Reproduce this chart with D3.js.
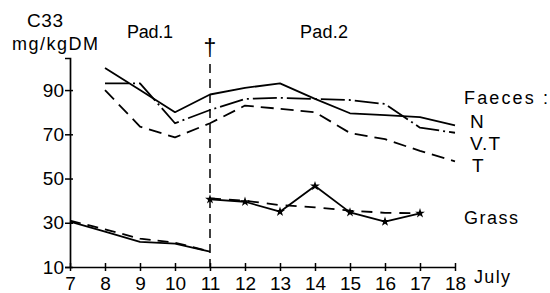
<!DOCTYPE html>
<meta charset="utf-8"/>
<style>
  body { margin: 0; background: #fff; }
  text { font-family: "Liberation Sans", Arial, sans-serif; fill: #000; }
</style>
<svg width="550" height="293"></svg>
<script src="https://d3js.org/d3.v7.min.js"></script>
<script>

// data (C33 alkane, mg/kg DM)
var days = [7, 8, 9, 10, 11, 12, 13, 14, 15, 16, 17, 18];
var yTicks = [10, 30, 50, 70, 90];

var faecesDays = [8, 9, 10, 11, 12, 13, 14, 15, 16, 17, 18];
var faecesN  = [100, 90, 80, 88, 91, 93, 86, 79.5, 78.7, 77.8, 74];
var faecesVT = [93, 93, 75, 81, 86, 86.5, 86, 85.5, 83.7, 73, 70.7];
var faecesT  = [90, 73.5, 68.6, 75, 83, 81.5, 80, 70.6, 67.8, 62.5, 57.8];

var grassDays1 = [7, 8, 9, 10, 11];
var grassSolid1 = [30.5, 26, 21.4, 20.6, 17];
var grassDash1  = [31, 27, 22.8, 21, 17];
var grassDays2 = [11, 12, 13, 14, 15, 16, 17];
var grassSolid2 = [40.6, 39.5, 35, 46.6, 34.7, 30.5, 34.3];
var grassDash2  = [41, 40, 38, 37, 35.5, 34.5, 34.3];

var svg = d3.select("svg");

var x = d3.scaleLinear().domain([7, 18]).range([70, 455]);
var y = d3.scaleLinear().domain([10, 104.5]).range([267, 58]);

// axes
var yAxis = svg.append("g")
    .attr("transform", "translate(" + x(7) + ",0)")
    .call(d3.axisLeft(y).tickValues(yTicks).tickSizeOuter(0).tickSize(5));
yAxis.select(".domain").attr("stroke", "#000").attr("stroke-width", 1.7);
yAxis.selectAll(".tick line").attr("x1", 3).attr("x2", -5).attr("stroke-width", 1.5);
yAxis.selectAll(".tick text")
    .attr("x", -6)
    .style("font-size", "19px")
    .style("font-family", "Liberation Sans, Arial, sans-serif");

var xAxis = svg.append("g")
    .attr("transform", "translate(0," + y(10) + ")")
    .call(d3.axisBottom(x).tickValues(days).tickSizeOuter(0).tickFormat(d3.format("d")));
xAxis.select(".domain").attr("stroke", "#000").attr("stroke-width", 1.7);
xAxis.selectAll(".tick line").attr("y1", -4).attr("y2", 4).attr("stroke-width", 1.5);
xAxis.selectAll(".tick text")
    .attr("dy", null)
    .attr("y", 23)
    .style("font-size", "19px")
    .style("font-family", "Liberation Sans, Arial, sans-serif");

// separation between paddocks
svg.append("line")
    .attr("x1", x(11)).attr("x2", x(11))
    .attr("y1", 64).attr("y2", y(10))
    .attr("stroke", "#000")
    .attr("stroke-width", 1.5)
    .attr("stroke-dasharray", "9,6");
svg.append("text")
    .attr("x", x(11)).attr("y", 56)
    .attr("text-anchor", "middle")
    .style("font-size", "23px")
    .text("\u2020");

var line = d3.line()
    .x(function(d) { return x(d[0]); })
    .y(function(d) { return y(d[1]); });

function drawSeries(ds, vs, dash) {
    var pts = ds.map(function(d, i) { return [d, vs[i]]; });
    svg.append("path")
        .datum(pts)
        .attr("d", line)
        .attr("fill", "none")
        .attr("stroke", "#000")
        .attr("stroke-width", 1.8)
        .attr("stroke-linejoin", "round")
        .attr("stroke-dasharray", dash);
    return pts;
}

drawSeries(faecesDays, faecesN, null);
drawSeries(faecesDays, faecesVT, "24,4,2,4");
drawSeries(faecesDays, faecesT, "13,7");

drawSeries(grassDays1, grassSolid1, null);
drawSeries(grassDays1, grassDash1, "11,7");
var starPts = drawSeries(grassDays2, grassSolid2, null);
drawSeries(grassDays2, grassDash2, "11,8");

svg.selectAll(".star")
    .data(starPts)
    .enter().append("path")
    .attr("class", "star")
    .attr("d", d3.symbol(d3.symbolStar, 30))
    .attr("transform", function(d) { return "translate(" + x(d[0]) + "," + y(d[1]) + ")"; })
    .attr("fill", "#000");

// labels
function label(txt, px, py, size, len) {
    var t = svg.append("text")
        .attr("x", px).attr("y", py)
        .style("font-size", size + "px")
        .text(txt);
    if (len) t.attr("textLength", len).attr("lengthAdjust", "spacing");
    return t;
}

label("C33", 27, 27, 19, 36);
label("mg/kgDM", 12, 50, 18, 86);
label("Pad.1", 127, 38, 18, 46);
label("Pad.2", 300, 38, 18, 48);
label("Faeces :", 464, 104, 18, 84);
label("N", 470, 128, 19);
label("V.T", 470, 150, 19, 30);
label("T", 472, 172, 19);
label("Grass", 464, 224, 18, 54);
label("July", 474, 283, 18, 36);

</script>
